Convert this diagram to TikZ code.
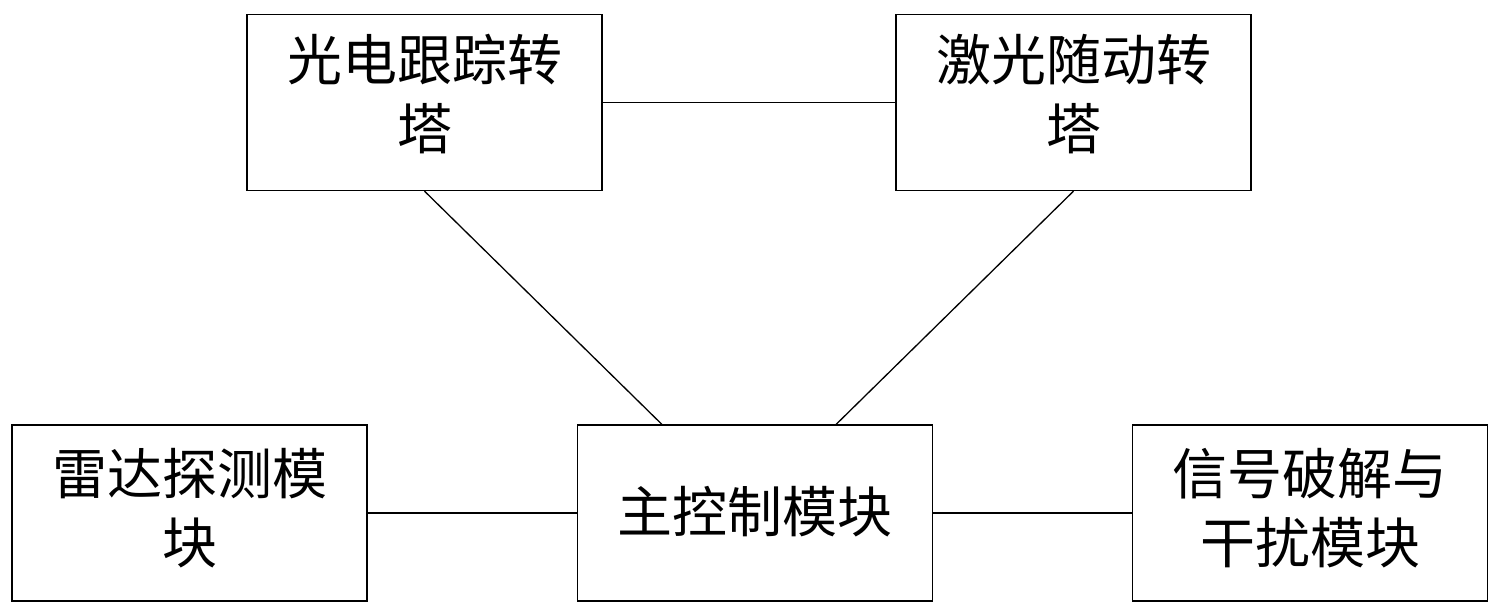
\documentclass[tikz,border=0pt]{standalone}
\usepackage{fontspec}
\newfontfamily\cjk{Noto Sans CJK SC}
\begin{document}
\begin{tikzpicture}[x=1pt,y=-1pt,
  box/.style={draw,line width=1.3pt,minimum width=355pt,minimum height=176pt,inner sep=0pt},
  txt/.style={font=\cjk\fontsize{55pt}{69pt}\selectfont,align=center,inner sep=0pt},
  link/.style={line width=1.3pt}]
\useasboundingbox (0,0) rectangle (1499,615);
\node[box] (A) at (424.5,102.5) {};
\node[box] (B) at (1073.5,102.5) {};
\node[box] (C) at (189.5,513) {};
\node[box] (D) at (755,513) {};
\node[box] (E) at (1310,513) {};
\node[txt] (tA) at ([yshift=8pt]A.center) {光电跟踪转\\塔};
\node[txt] (tB) at ([yshift=8pt]B.center) {激光随动转\\塔};
\node[txt] (tC) at ([yshift=5pt]C.center) {雷达探测模\\块};
\node[txt] (tD) at ([yshift=1pt]D.center) {主控制模块};
\node[txt] (tE) at ([yshift=5pt]E.center) {信号破解与\\干扰模块};
\draw[link] (A.east) -- (B.west);
\draw[link] (A.south) -- ([xshift=85pt]D.north west);
\draw[link] (B.south) -- ([xshift=-97pt]D.north east);
\draw[link] (C.east) -- (D.west);
\draw[link] (D.east) -- (E.west);
\end{tikzpicture}
\end{document}
